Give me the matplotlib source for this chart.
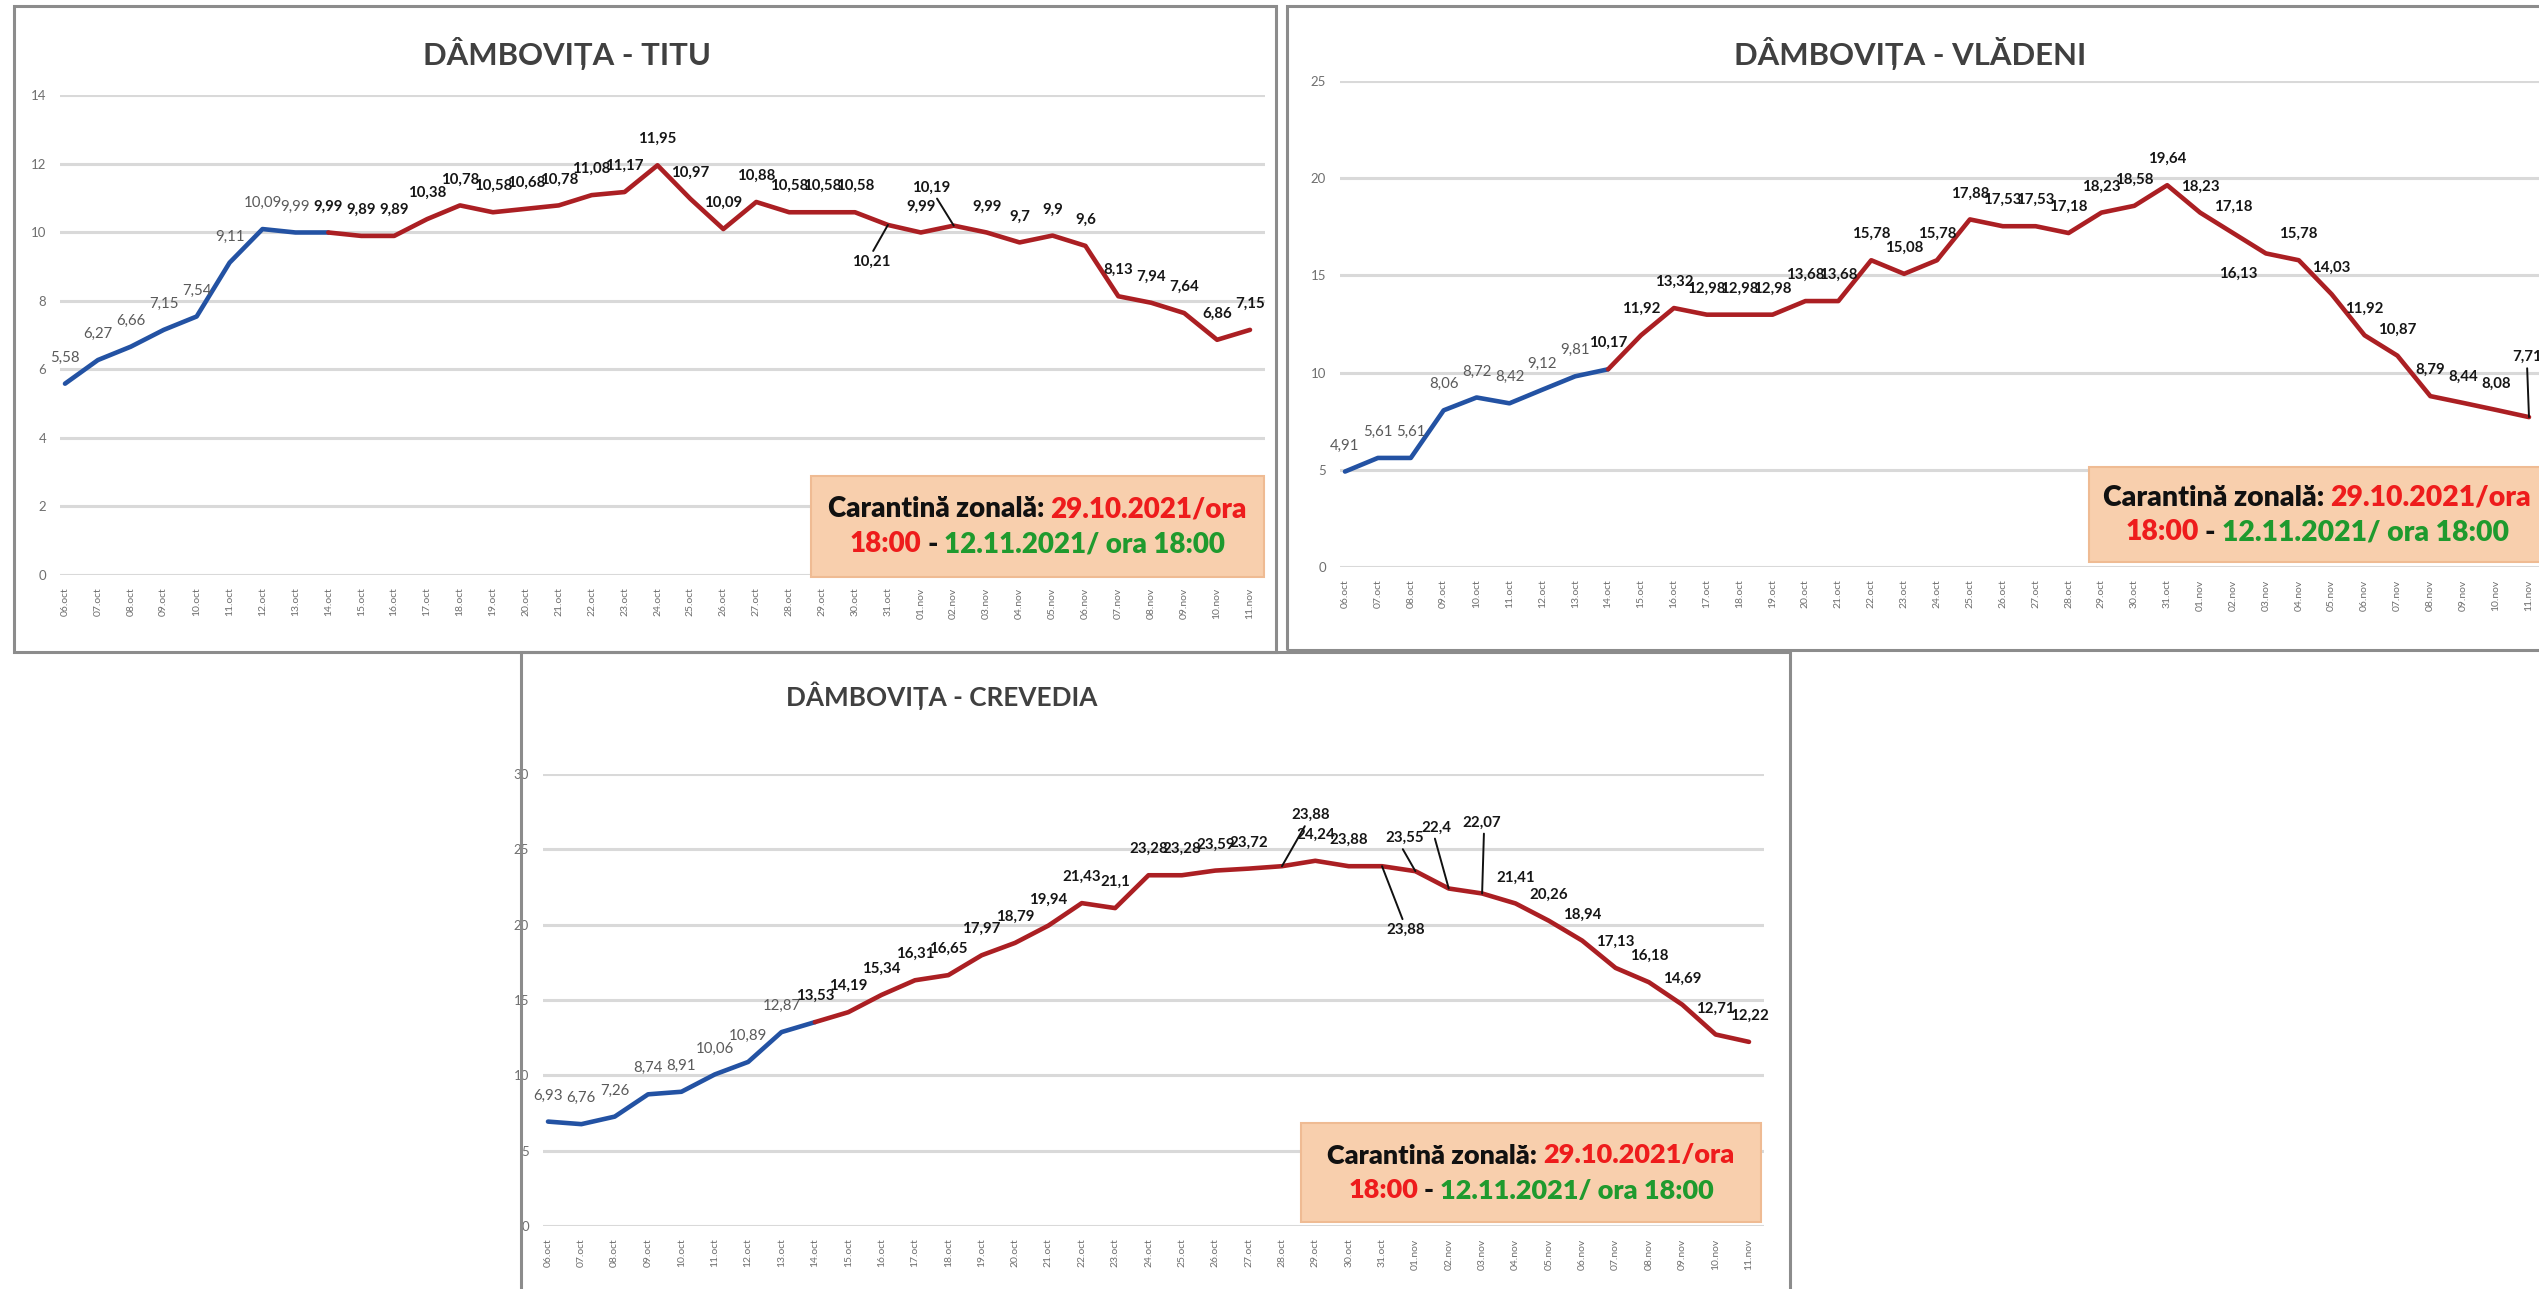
import matplotlib
matplotlib.use("Agg")
import matplotlib.pyplot as plt
from matplotlib.patches import Rectangle

plt.rcParams['font.family'] = ['Lato', 'DejaVu Sans']

W, H = 2539, 1289

days = ["06.oct", "07.oct", "08.oct", "09.oct", "10.oct", "11.oct", "12.oct",
        "13.oct", "14.oct", "15.oct", "16.oct", "17.oct", "18.oct", "19.oct",
        "20.oct", "21.oct", "22.oct", "23.oct", "24.oct", "25.oct", "26.oct",
        "27.oct", "28.oct", "29.oct", "30.oct", "31.oct", "01.nov", "02.nov",
        "03.nov", "04.nov", "05.nov", "06.nov", "07.nov", "08.nov", "09.nov",
        "10.nov", "11.nov"]

titu = [5.58, 6.27, 6.66, 7.15, 7.54, 9.11, 10.09, 9.99, 9.99, 9.89, 9.89,
        10.38, 10.78, 10.58, 10.68, 10.78, 11.08, 11.17, 11.95, 10.97, 10.09,
        10.88, 10.58, 10.58, 10.58, 10.21, 9.99, 10.19, 9.99, 9.7, 9.9, 9.6,
        8.13, 7.94, 7.64, 6.86, 7.15]

vladeni = [4.91, 5.61, 5.61, 8.06, 8.72, 8.42, 9.12, 9.81, 10.17, 11.92, 13.32,
           12.98, 12.98, 12.98, 13.68, 13.68, 15.78, 15.08, 15.78, 17.88, 17.53,
           17.53, 17.18, 18.23, 18.58, 19.64, 18.23, 17.18, 16.13, 15.78, 14.03,
           11.92, 10.87, 8.79, 8.44, 8.08, 7.71]

crevedia = [6.93, 6.76, 7.26, 8.74, 8.91, 10.06, 10.89, 12.87, 13.53, 14.19,
            15.34, 16.31, 16.65, 17.97, 18.79, 19.94, 21.43, 21.1, 23.28, 23.28,
            23.59, 23.72, 23.88, 24.24, 23.88, 23.88, 23.55, 22.4, 22.07, 21.41,
            20.26, 18.94, 17.13, 16.18, 14.69, 12.71, 12.22]

SPLIT = 8  # 14.oct: blue before, dark red after

BLUE = '#2352a3'
RED = '#ab1f23'

fig = plt.figure(figsize=(W / 100, H / 100), dpi=100)
fig.patch.set_facecolor('white')
renderer = fig.canvas.get_renderer()


def fx(x):
    return x / W


def fy(y):
    return 1 - y / H


def fmt(v):
    return f"{v:g}".replace('.', ',')


def panel_border(x0, y0, x1, y1):
    fig.patches.append(Rectangle((fx(x0), fy(y1)), fx(x1 - x0), (y1 - y0) / H,
                                 transform=fig.transFigure, fill=False,
                                 edgecolor='#8c8c8c', lw=2.2, zorder=0))


def rich_line(cx, cy, parts, size, gap=6):
    texts = []
    for s, c in parts:
        texts.append(fig.text(0, 0, s, color=c, fontsize=size, fontweight='heavy',
                              va='center', ha='left', zorder=5))
    widths = [t.get_window_extent(renderer).width for t in texts]
    total = sum(widths) + gap * (len(texts) - 1)
    x = cx - total / 2
    for t, w in zip(texts, widths):
        t.set_position((fx(x), fy(cy)))
        x += w + gap
    return texts, total


def quarantine_box(x0, y0, x1, y1, line_w=415):
    fig.patches.append(Rectangle((fx(x0), fy(y1)), fx(x1 - x0), (y1 - y0) / H,
                                 transform=fig.transFigure, facecolor='#f8cfad',
                                 edgecolor='#efbb93', lw=1.5, zorder=4))
    cx, cy = (x0 + x1) / 2, (y0 + y1) / 2
    line1 = [("Carantină zonală:", '#111111'), ("29.10.2021/ora", '#ee1c1c')]
    line2 = [("18:00", '#ee1c1c'), ("-", '#111111'),
             ("12.11.2021/ ora 18:00", '#1f9a2e')]
    # measure once, then scale the font so the first line has the reference width
    probe, w = rich_line(cx, cy, line1, 16)
    for t in probe:
        t.remove()
    size = 16 * line_w / w
    rich_line(cx, cy - 17, line1, size)
    rich_line(cx, cy + 18, line2, size)


def draw_chart(vals, title, tx, ty, x_first, x_last, y_top, y_bot, ymax, step,
               special, title_size):
    n = len(vals)
    sp = (x_last - x_first) / (n - 1)
    lpad, rpad = 0.15, 0.45
    left = x_first - lpad * sp
    right = x_last + rpad * sp
    ax = fig.add_axes([fx(left), fy(y_bot), fx(right - left), (y_bot - y_top) / H])
    ax.patch.set_alpha(0)
    x = list(range(n))
    ax.plot(x[:SPLIT + 1], vals[:SPLIT + 1], color=BLUE, lw=3.3,
            solid_joinstyle='round', solid_capstyle='round', zorder=3)
    ax.plot(x[SPLIT:], vals[SPLIT:], color=RED, lw=3.3,
            solid_joinstyle='round', solid_capstyle='round', zorder=3)
    ax.set_xlim(-lpad, n - 1 + rpad)
    ax.set_ylim(0, ymax)
    ax.set_yticks(range(0, ymax + 1, step))
    ax.yaxis.grid(True, color='#d9d9d9', lw=2.2)
    ax.set_axisbelow(True)
    for s in ax.spines.values():
        s.set_visible(False)
    ax.set_xticks(x)
    ax.set_xticklabels(days, rotation=90, fontsize=7.5, color='#6f6f6f')
    ax.tick_params(axis='both', length=0)
    ax.tick_params(axis='x', pad=9)
    ax.tick_params(axis='y', labelsize=9.5, labelcolor='#6f6f6f', pad=10)

    for i, v in enumerate(vals):
        dx, dy, leader = special.get(i, (0, 26, None))
        kw = {}
        if leader is not None:
            kw['arrowprops'] = dict(arrowstyle='-', color='#111111', lw=1.4,
                                    relpos=leader, shrinkA=1, shrinkB=0)
        blue_part = i < SPLIT
        ax.annotate(fmt(v), xy=(i, v), xytext=(dx * 0.72, dy * 0.72),
                    textcoords='offset points', ha='center', va='center',
                    fontsize=10.8,
                    color='#5a5a5a' if blue_part else '#161616',
                    fontweight='normal' if blue_part else 'bold',
                    zorder=4, annotation_clip=False, **kw)

    fig.text(fx(tx), fy(ty), title, ha='center', va='center',
             fontsize=title_size, fontweight='bold', color='#404040')
    return ax


# one title size for the top panels, sized on the TITU title width
probe = fig.text(0, 0, "DÂMBOVIȚA - TITU", fontsize=22, fontweight='bold')
TITLE_SIZE = 22 * 288 / probe.get_window_extent(renderer).width
probe.remove()

# panel frames
panel_border(14, 6, 1276, 652)
panel_border(1287, 6, 2560, 650)
panel_border(521, 652, 1790, 1300)

draw_chart(titu, "DÂMBOVIȚA - TITU", 567, 53, 65, 1250, 95, 575, 14, 2,
           {25: (-17, -37, (0.5, 1)), 27: (-23, 38, (0.6, 0))}, TITLE_SIZE)
draw_chart(vladeni, "DÂMBOVIȚA - VLĂDENI", 1910, 53, 1345, 2529, 81, 567, 25, 5,
           {28: (-28, -20, None), 36: (-2, 60, (0.5, 0))}, TITLE_SIZE)
draw_chart(crevedia, "DÂMBOVIȚA - CREVEDIA", 942, 696, 548, 1749, 774, 1226, 30, 5,
           {22: (29, 51, (0.4, 0)), 25: (24, -64, (0.45, 1)),
            26: (-11, 33, (0.4, 0)), 27: (-12, 61, (0.4, 0)),
            28: (0, 71, (0.55, 0))}, TITLE_SIZE * 0.84)

quarantine_box(811, 476, 1264, 577, line_w=420)
quarantine_box(2089, 467, 2545, 562, line_w=430)
quarantine_box(1301, 1123, 1761, 1222, line_w=410)

fig.savefig('out.png', dpi=100)
